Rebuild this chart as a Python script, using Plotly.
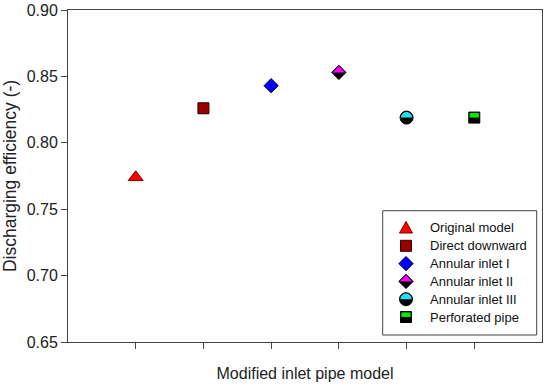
import plotly.graph_objects as go

models = ["Original model", "Direct downward", "Annular inlet I",
          "Annular inlet II", "Annular inlet III", "Perforated pipe"]
positions = [1, 2, 3, 4, 5, 6]
efficiency = [0.774, 0.826, 0.843, 0.853, 0.819, 0.819]
y_ticks = [0.65, 0.70, 0.75, 0.80, 0.85, 0.90]

# style per model: (symbol, base colour, line colour, size, top-half colour or None)
styles = [
    ("triangle-up", "#ff0000", "#7a0000", 13, None),
    ("square", "#990000", "#2a0000", 11, None),
    ("diamond", "#0000ff", "#00003a", 11, None),
    ("diamond", "#000000", "#000000", 11, "#ff00ff"),
    ("circle", "#000000", "#000000", 13, "#22e0f0"),
    ("square", "#000000", "#000000", 11, "#00ee00"),
]

FONT = "Arial, Liberation Sans, sans-serif"
L, R, T, B = 68, 8, 10, 46
W, H = 550, 388
PW, PH = W - L - R, H - T - B


def half_path(symbol):
    """Top-half overlay path in pixel units (y up)."""
    if symbol == "diamond":
        return "M -6.3,0 L 0,6.3 L 6.3,0 Z"
    if symbol == "circle":
        r = 5.6
        k = 0.5523 * r
        return (f"M {-r},0 C {-r},{k} {-k},{r} 0,{r} "
                f"C {k},{r} {r},{k} {r},0 Z")
    if symbol == "square":
        return "M -4.6,0 L -4.6,4.6 L 4.6,4.6 L 4.6,0 Z"
    return None


def full_path(symbol, size):
    if symbol == "triangle-up":
        return "M -6.5,-5 L 6.5,-5 L 0,6.5 Z"
    if symbol == "square":
        h = size / 2
        return f"M {-h},{-h} L {-h},{h} L {h},{h} L {h},{-h} Z"
    if symbol == "diamond":
        d = 1.3 * size / 2
        return f"M {-d},0 L 0,{d} L {d},0 L 0,{-d} Z"
    if symbol == "circle":
        r = size / 2
        k = 0.5523 * r
        return (f"M {-r},0 C {-r},{k} {-k},{r} 0,{r} C {k},{r} {r},{k} {r},0 "
                f"C {r},{-k} {k},{-r} 0,{-r} C {-k},{-r} {-r},{-k} {-r},0 Z")


fig = go.Figure()
shapes = []
annotations = []

for name, xp, yv, st in zip(models, positions, efficiency, styles):
    sym, col, lcol, size, top = st
    fig.add_trace(go.Scatter(
        x=[xp], y=[yv], mode="markers", name=name, showlegend=False,
        marker=dict(symbol=sym, size=size, color=col,
                    line=dict(color=lcol, width=1)),
    ))
    if top:
        shapes.append(dict(
            type="path", xref="x", yref="y", xsizemode="pixel", ysizemode="pixel",
            xanchor=xp, yanchor=yv, path=half_path(sym),
            fillcolor=top, line=dict(width=0), layer="above",
        ))

# manual legend
lx0, lx1 = (382.7 - L) / PW, (536.7 - L) / PW
ly0, ly1 = (H - B - 335) / PH, (H - B - 210.7) / PH
shapes.append(dict(type="rect", xref="paper", yref="paper",
                   x0=lx0, x1=lx1, y0=ly0, y1=ly1,
                   line=dict(color="#444444", width=1), fillcolor="white",
                   layer="above"))
mx = (406 - L) / PW
tx = (428 - L) / PW
for i, (name, st) in enumerate(zip(models, styles)):
    sym, col, lcol, size, top = st
    ypix = 228 + i * 17.8
    yp = (H - B - ypix) / PH
    shapes.append(dict(type="path", xref="paper", yref="paper",
                       xsizemode="pixel", ysizemode="pixel",
                       xanchor=mx, yanchor=yp, path=full_path(sym, size),
                       fillcolor=col, line=dict(color=lcol, width=1),
                       layer="above"))
    if top:
        shapes.append(dict(type="path", xref="paper", yref="paper",
                           xsizemode="pixel", ysizemode="pixel",
                           xanchor=mx, yanchor=yp, path=half_path(sym),
                           fillcolor=top, line=dict(width=0), layer="above"))
    annotations.append(dict(x=tx, y=yp, xref="paper", yref="paper",
                            text=name, showarrow=False, xanchor="left",
                            yanchor="middle",
                            font=dict(family=FONT, size=13, color="#111111")))

axis_common = dict(showline=True, linecolor="#444444", linewidth=1,
                   mirror=True, ticks="outside", ticklen=6, tickwidth=1,
                   tickcolor="#444444", showgrid=False, zeroline=False,
                   automargin=False)

fig.update_layout(
    width=W, height=H,
    margin=dict(l=L, r=R, t=T, b=B, pad=0),
    paper_bgcolor="white", plot_bgcolor="white",
    font=dict(family=FONT, color="#222222"),
    xaxis=dict(range=[0, 7], tickvals=positions, ticktext=[""] * 6,
               title=dict(text="Modified inlet pipe model",
                          font=dict(size=16, family=FONT), standoff=17),
               **axis_common),
    yaxis=dict(range=[0.65, 0.90], tickvals=y_ticks, tickformat=".2f",
               tickfont=dict(size=16, family=FONT),
               title=dict(text="Discharging efficiency (-)",
                          font=dict(size=17.5, family=FONT), standoff=6),
               **axis_common),
    shapes=shapes,
    annotations=annotations,
    showlegend=False,
)

fig.write_html("out.html",
               config={"displayModeBar": False},
               post_script="document.body.style.margin='0';"
                           "document.body.style.overflow='hidden';")
